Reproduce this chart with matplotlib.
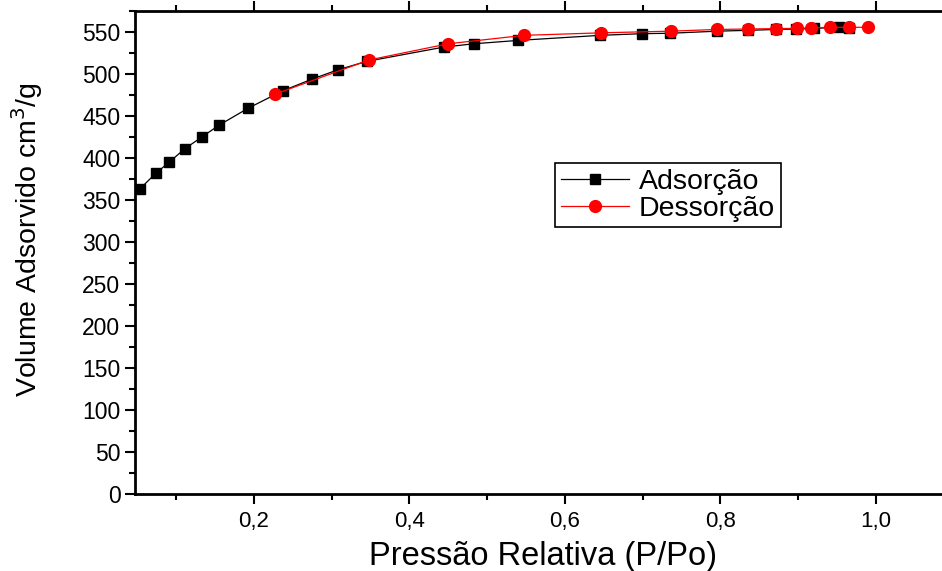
import matplotlib
matplotlib.use("Agg")
from matplotlib import pyplot as plt
from matplotlib.ticker import MultipleLocator, FuncFormatter

plt.rcParams['font.family'] = ['Liberation Sans', 'DejaVu Sans']

# adsorption branch
ads_p = [0.053, 0.074, 0.091, 0.111, 0.133, 0.155, 0.192, 0.237, 0.275, 0.308,
         0.345, 0.444, 0.483, 0.540, 0.645, 0.699, 0.735, 0.796, 0.836, 0.871,
         0.897, 0.921, 0.953, 0.966]
ads_v = [363, 382, 395, 411, 425, 439, 459, 480, 494, 505,
         515, 532, 536, 540, 546, 548, 548.5, 551, 552, 553,
         553.5, 554.4, 555.6, 555]

# desorption branch
des_p = [0.227, 0.348, 0.450, 0.547, 0.646, 0.736, 0.795, 0.836, 0.871, 0.899,
         0.917, 0.941, 0.966, 0.990]
des_v = [476, 516.7, 536, 546, 549, 551, 553, 553.6, 554, 554.4,
         554.8, 555.6, 555.6, 555.6]

fig = plt.figure(figsize=(9.42, 5.71), dpi=100)
ax = fig.add_axes([135 / 942, 77 / 571, 1 - 135 / 942, (494 - 11) / 571])

ax.plot(ads_p, ads_v, color="black", lw=0.9, marker="s", ms=7.5,
        mfc="black", mec="black", label="Adsorção")
ax.plot(des_p, des_v, color="red", lw=0.9, marker="o", ms=8.5,
        mfc="red", mec="red", label="Dessorção")

ax.set_xlim(0.047, 1.085)
ax.set_ylim(0, 575)

ax.xaxis.set_major_locator(MultipleLocator(0.2))
ax.xaxis.set_minor_locator(MultipleLocator(0.1))
ax.yaxis.set_major_locator(MultipleLocator(50))
ax.yaxis.set_minor_locator(MultipleLocator(25))
ax.xaxis.set_major_formatter(FuncFormatter(lambda v, p: f"{v:.1f}".replace(".", ",")))

for s in ["left", "bottom", "top"]:
    ax.spines[s].set_linewidth(2)
ax.spines["right"].set_visible(False)

ax.tick_params(which="major", direction="out", length=7, width=1.5,
               labelsize=16, top=True)
ax.tick_params(axis="y", which="major", labelsize=16.5, pad=3.5)
ax.tick_params(which="minor", direction="out", length=4, width=1.5, top=True)
ax.tick_params(axis="x", which="major", pad=5)

ax.set_xlabel("Pressão Relativa (P/Po)", fontsize=23.5)
ax.xaxis.set_label_coords(0.5056, -0.097)
ax.set_ylabel("Volume Adsorvido cm$^3$/g", fontsize=20.5)
ax.yaxis.set_label_coords(-0.112, 0.526)

leg = ax.legend(loc="upper left", bbox_to_anchor=(555 / 942, 1 - 163 / 571),
                bbox_transform=fig.transFigure, borderaxespad=0, fontsize=20.5,
                fancybox=False, edgecolor="black", framealpha=1,
                handlelength=2.4, borderpad=0.2, labelspacing=0.03,
                handletextpad=0.35)
leg.get_frame().set_linewidth(1.2)

fig.savefig("out.png", dpi=100)
